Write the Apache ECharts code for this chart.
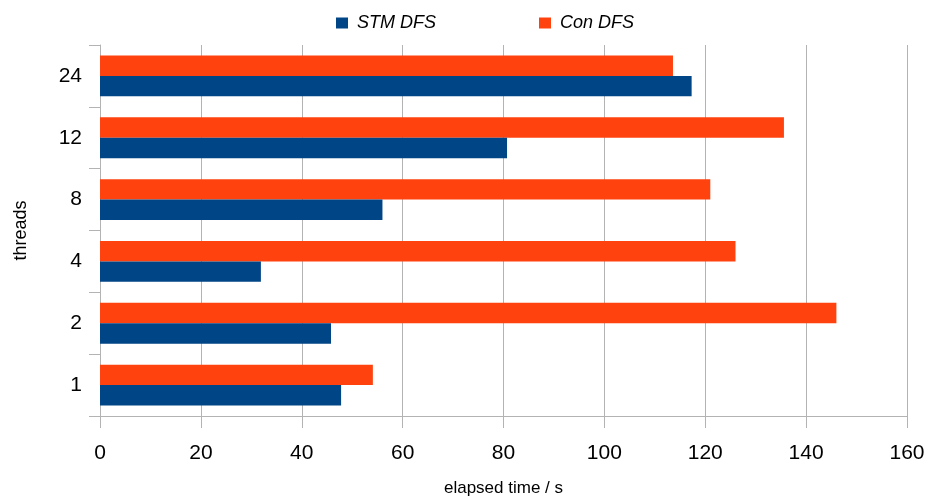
<!DOCTYPE html>
<html>
<head>
<meta charset="utf-8">
<script src="https://cdn.jsdelivr.net/npm/echarts@6/dist/echarts.min.js"></script>
<style>
  html, body { margin: 0; padding: 0; background: #fff; }
  #chart { width: 928px; height: 502px; }
</style>
</head>
<body>
<div id="chart"></div>
<script>
// Thread counts on the category axis (bottom to top)
const threads = ['1', '2', '4', '8', '12', '24'];
// Elapsed time in seconds per thread count
const stmDfs = [47.8, 45.8, 31.9, 56, 80.7, 117.3];
const conDfs = [54.1, 146, 126, 121, 135.6, 113.6];
const xTicks = { min: 0, max: 160, step: 20 };

const FONT = '"Liberation Sans", "DejaVu Sans", sans-serif';
const GRID_GREY = '#b3b3b3';

const chart = echarts.init(document.getElementById('chart'), null, { renderer: 'canvas' });
chart.setOption({
  animation: false,
  backgroundColor: '#ffffff',
  textStyle: { fontFamily: FONT, color: '#000' },
  legend: {
    top: 9,
    left: 331,
    itemGap: 103,
    itemWidth: 12,
    itemHeight: 11,
    icon: 'rect',
    textStyle: { fontFamily: FONT, fontStyle: 'italic', fontSize: 18, color: '#000', padding: [0, 0, 0, 4] },
    data: ['STM DFS', 'Con DFS']
  },
  grid: { left: 100, right: 21, top: 45, bottom: 82, containLabel: false },
  xAxis: {
    type: 'value',
    min: xTicks.min,
    max: xTicks.max,
    interval: xTicks.step,
    name: 'elapsed time / s',
    nameLocation: 'middle',
    nameGap: 64,
    nameTextStyle: { fontFamily: FONT, fontSize: 17, color: '#000' },
    axisLine: { show: true, lineStyle: { color: GRID_GREY, width: 1 } },
    axisTick: { show: true, length: 12, lineStyle: { color: GRID_GREY } },
    splitLine: { show: true, lineStyle: { color: GRID_GREY, width: 1 } },
    axisLabel: { margin: 27, fontFamily: FONT, fontSize: 21, color: '#000' }
  },
  yAxis: {
    type: 'category',
    data: threads,
    name: 'threads',
    nameLocation: 'middle',
    nameGap: 70,
    nameTextStyle: { fontFamily: FONT, fontSize: 18, color: '#000' },
    axisLine: { show: true, lineStyle: { color: GRID_GREY, width: 1 } },
    axisTick: { show: true, length: 11, lineStyle: { color: GRID_GREY } },
    axisLabel: { margin: 18, fontFamily: FONT, fontSize: 21, color: '#000' },
    splitLine: { show: false }
  },
  // Con DFS listed first so it sits above STM DFS inside each thread group
  series: [
    {
      name: 'Con DFS',
      type: 'bar',
      data: conDfs,
      itemStyle: { color: '#ff420e' },
      barGap: '0%',
      barCategoryGap: '34%'
    },
    {
      name: 'STM DFS',
      type: 'bar',
      data: stmDfs,
      itemStyle: { color: '#004586' },
      barGap: '0%',
      barCategoryGap: '34%'
    }
  ]
});
</script>
</body>
</html>
